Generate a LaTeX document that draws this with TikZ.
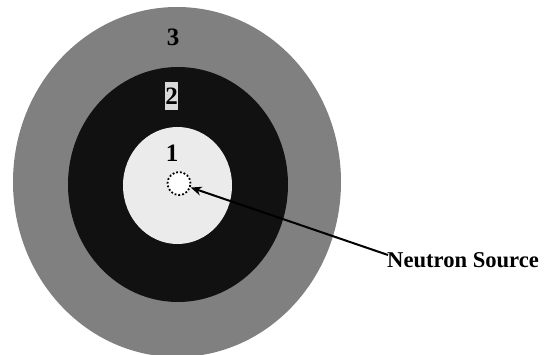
\documentclass[tikz,border=0pt]{standalone}
\usepackage{fontspec}
\setmainfont{Liberation Serif}
\usetikzlibrary{arrows.meta}
\definecolor{ring3}{HTML}{808080}
\definecolor{ring2}{HTML}{111111}
\definecolor{ring1}{HTML}{EBEBEB}
\definecolor{labbox}{HTML}{D9D9D9}
\begin{document}
\begin{tikzpicture}[x=1pt,y=-1pt,
  numlab/.style={font=\fontsize{25}{25}\selectfont\bfseries, inner sep=0pt},
  srclabel/.style={font=\fontsize{22.6}{22.6}\selectfont\bfseries, inner sep=0pt, anchor=west},
  srccircle/.style={circle, draw=black, fill=white, dotted, line width=1.8pt, minimum size=23pt, inner sep=0pt},
  pointer/.style={-{Stealth[length=11pt,width=9pt]}, line width=2pt}]
\useasboundingbox (0,0) rectangle (547,355);
\fill[ring3] (177,182) ellipse [x radius=164, y radius=175];
\fill[ring2] (178,184.5) ellipse [x radius=110, y radius=117.5];
\fill[ring1] (177.5,185.5) ellipse [x radius=54.5, y radius=58.5];
\node[numlab] (l3) at (173,37) {3};
\node[numlab, fill=labbox, minimum width=11pt, minimum height=28pt] (l2) at (171.5,96.5) {2};
\node[numlab] (l1) at (172,153.5) {1};
\node[srccircle] (src) at (179,183.5) {};
\node[srclabel] (ns) at (387,260) {Neutron Source};
\coordinate (start) at (388,255);
\draw[pointer] (start) -- (src);
\end{tikzpicture}
\end{document}
